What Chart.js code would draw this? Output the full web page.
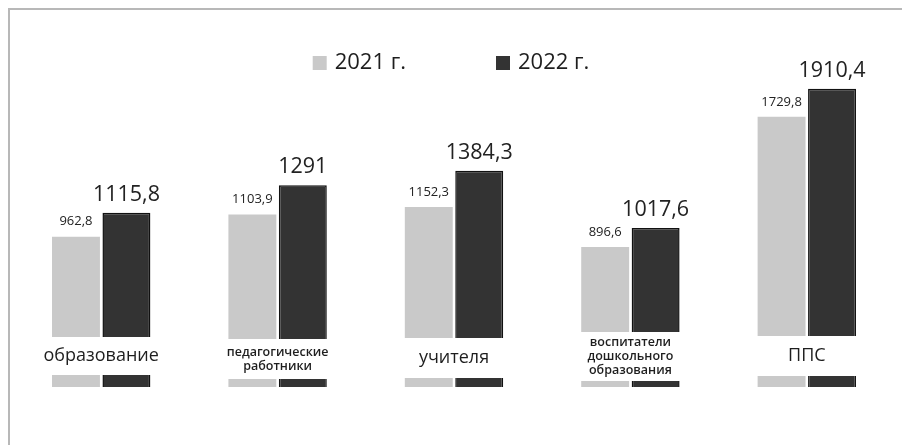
<!DOCTYPE html>
<html>
<head>
<meta charset="utf-8">
<script src="https://cdn.jsdelivr.net/npm/chart.js@4"></script>
<style>
  body { margin: 0; background: #fff; }
  #wrap { width: 902px; height: 445px; position: relative; }
</style>
</head>
<body>
<div id="wrap"><canvas id="salary"></canvas></div>
<script>
// data
const categories = ['образование', ['педагогические', 'работники'], 'учителя', ['воспитатели', 'дошкольного', 'образования'], 'ППС'];
const values2021 = [962.8, 1103.9, 1152.3, 896.6, 1729.8];
const values2022 = [1115.8, 1291, 1384.3, 1017.6, 1910.4];
const seriesNames = ['2021 г.', '2022 г.'];

// white band over the bars where the category name sits (px above baseline: top, bottom)
const bandOffsets = [[50, 12], [48, 8], [49, 9], [55, 6], [51, 11]];
const labelSizes = [18, 12.5, 18, 12.5, 18];

const fmt = v => String(v).replace('.', ',');

// frame lines
const framePlugin = {
    id: 'frame',
    beforeDraw(chart) {
        const ctx = chart.ctx;
        ctx.save();
        ctx.strokeStyle = '#b8b8b8';
        ctx.lineWidth = 2;
        ctx.beginPath();
        ctx.moveTo(9, chart.height);
        ctx.lineTo(9, 9);
        ctx.lineTo(chart.width, 9);
        ctx.stroke();
        ctx.restore();
    }
};

// legend inside the plot, wide gap between items
const legendPlugin = {
    id: 'wideLegend',
    afterDraw(chart) {
        const ctx = chart.ctx;
        const box = 14, gapText = 8, gapItem = 90, cy = 63;
        ctx.save();
        ctx.font = '22px "Open Sans"';
        ctx.textBaseline = 'middle';
        ctx.textAlign = 'left';
        const items = chart.data.datasets.map(ds => ({
            text: ds.label, color: ds.backgroundColor, w: box + gapText + ctx.measureText(ds.label).width
        }));
        const total = items.reduce((s, it) => s + it.w, 0) + gapItem * (items.length - 1);
        let x = chart.width / 2 - total / 2;
        items.forEach(it => {
            ctx.fillStyle = it.color;
            ctx.fillRect(x, cy - box / 2, box, box);
            ctx.fillStyle = '#1e1e1e';
            ctx.fillText(it.text, x + box + gapText, cy);
            x += it.w + gapItem;
        });
        ctx.restore();
    }
};

// category names on white bands + value labels
const labelPlugin = {
    id: 'labels',
    afterDatasetsDraw(chart) {
        const ctx = chart.ctx;
        const base = chart.scales.y.getPixelForValue(0);
        const m0 = chart.getDatasetMeta(0).data;
        const m1 = chart.getDatasetMeta(1).data;
        ctx.save();
        categories.forEach((cat, i) => {
            const left = m0[i].x - m0[i].width / 2 - 2;
            const right = m1[i].x + m1[i].width / 2 + 2;
            const top = base - bandOffsets[i][0];
            const bottom = base - bandOffsets[i][1];
            ctx.fillStyle = '#fff';
            ctx.fillRect(left, top, right - left, bottom - top);

            const lines = Array.isArray(cat) ? cat : [cat];
            const size = labelSizes[i];
            const lh = size * 1.12;
            ctx.fillStyle = '#1e1e1e';
            ctx.font = (size < 15 ? '600 ' : '') + size + 'px "Open Sans"';
            ctx.textAlign = 'center';
            ctx.textBaseline = 'middle';
            const cx = (m0[i].x + m1[i].x) / 2;
            const cy = (top + bottom) / 2;
            lines.forEach((ln, k) => {
                ctx.fillText(ln, cx, cy + (k - (lines.length - 1) / 2) * lh);
            });
        });

        // value labels
        ctx.fillStyle = '#222';
        ctx.textAlign = 'center';
        ctx.textBaseline = 'middle';
        ctx.font = '13px "Open Sans"';
        m0.forEach((el, i) => ctx.fillText(fmt(values2021[i]), el.x, el.y - 15));
        ctx.font = '21.5px "Open Sans"';
        m1.forEach((el, i) => ctx.fillText(fmt(values2022[i]), el.x, el.y - 18));
        ctx.restore();
    }
};

new Chart('salary', {
    type: 'bar',
    data: {
        labels: categories,
        datasets: [{
            label: seriesNames[0],
            data: values2021,
            backgroundColor: '#c9c9c9',
            borderColor: '#c9c9c9',
            borderWidth: 0
        }, {
            label: seriesNames[1],
            data: values2022,
            backgroundColor: '#333333',
            borderColor: '#111111',
            borderWidth: 1.5
        }]
    },
    options: {
        responsive: true,
        maintainAspectRatio: false,
        animation: false,
        categoryPercentage: 0.572,
        barPercentage: 0.95,
        layout: { padding: { left: 13, right: 7, top: 43.4, bottom: 58 } },
        plugins: {
            legend: { display: false },
            tooltip: { enabled: false }
        },
        scales: {
            x: { display: false },
            y: { display: false, min: 0, max: 2200 }
        }
    },
    plugins: [framePlugin, legendPlugin, labelPlugin]
});
</script>
</body>
</html>
